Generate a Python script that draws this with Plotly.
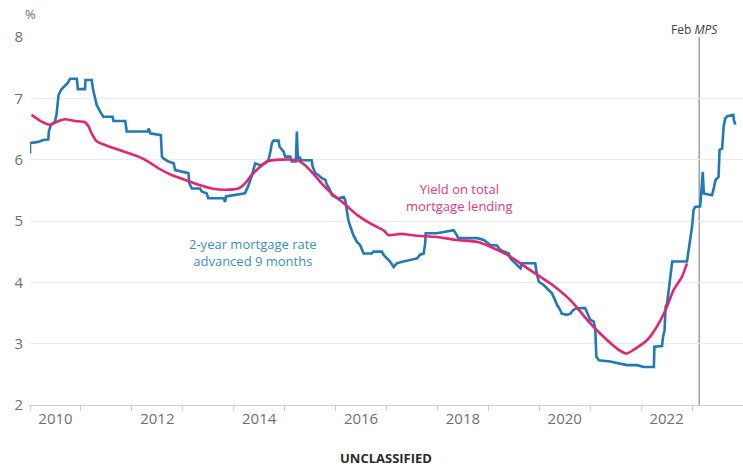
import plotly.graph_objects as go

# 2-year mortgage rate, advanced 9 months (step-like series)
rate_x = [2010.00, 2010.00, 2010.16, 2010.26, 2010.36, 2010.37, 2010.41, 2010.49, 2010.52, 2010.56,
          2010.61, 2010.67, 2010.74, 2010.79, 2010.92, 2010.94, 2011.08, 2011.09, 2011.21, 2011.24,
          2011.28, 2011.31, 2011.38, 2011.44, 2011.62, 2011.64, 2011.87, 2011.90, 2012.32, 2012.33,
          2012.36, 2012.57, 2012.59, 2012.62, 2012.72, 2012.82, 2012.85, 2013.11, 2013.13, 2013.18,
          2013.34, 2013.37, 2013.47, 2013.50, 2013.80, 2013.83, 2013.85, 2014.22, 2014.28, 2014.36,
          2014.42, 2014.52, 2014.62, 2014.68, 2014.72, 2014.75, 2014.78, 2014.88, 2014.90, 2014.98,
          2015.01, 2015.11, 2015.14, 2015.22, 2015.24, 2015.26, 2015.28, 2015.33, 2015.53, 2015.55,
          2015.60, 2015.66, 2015.73, 2015.80, 2015.83, 2015.89, 2015.93, 2016.06, 2016.16, 2016.19,
          2016.22, 2016.25, 2016.29, 2016.35, 2016.42, 2016.48, 2016.52, 2016.55, 2016.71, 2016.74,
          2016.91, 2016.94, 2017.01, 2017.07, 2017.14, 2017.20, 2017.33, 2017.47, 2017.60, 2017.66,
          2017.73, 2017.76, 2017.77, 2017.99, 2018.19, 2018.25, 2018.32, 2018.38, 2018.41, 2018.78,
          2018.91, 2019.04, 2019.17, 2019.23, 2019.40, 2019.43, 2019.50, 2019.63, 2019.66, 2019.92,
          2019.95, 2019.99, 2020.08, 2020.18, 2020.25, 2020.31, 2020.35, 2020.41, 2020.44, 2020.54,
          2020.61, 2020.67, 2020.74, 2020.90, 2020.94, 2021.00, 2021.07, 2021.10, 2021.12, 2021.17,
          2021.39, 2021.59, 2021.72, 2021.92, 2022.05, 2022.25, 2022.26, 2022.41, 2022.43, 2022.46,
          2022.48, 2022.51, 2022.57, 2022.61, 2022.90, 2022.93, 2022.97, 2023.00, 2023.03, 2023.06,
          2023.16, 2023.20, 2023.21, 2023.23, 2023.39, 2023.42, 2023.46, 2023.52, 2023.54, 2023.59,
          2023.62, 2023.65, 2023.69, 2023.81, 2023.82, 2023.85]
rate_y = [6.10, 6.27, 6.29, 6.32, 6.33, 6.46, 6.57, 6.62, 6.73, 7.05,
          7.14, 7.19, 7.25, 7.32, 7.32, 7.15, 7.15, 7.30, 7.30, 7.14,
          7.00, 6.89, 6.78, 6.70, 6.70, 6.63, 6.63, 6.46, 6.46, 6.51,
          6.43, 6.40, 6.05, 6.02, 5.97, 5.94, 5.83, 5.78, 5.61, 5.53,
          5.53, 5.48, 5.45, 5.37, 5.37, 5.31, 5.40, 5.45, 5.56, 5.75,
          5.94, 5.91, 5.94, 5.99, 6.13, 6.27, 6.31, 6.31, 6.21, 6.13,
          6.05, 6.05, 5.97, 5.97, 6.46, 5.99, 6.05, 5.99, 5.99, 5.89,
          5.78, 5.75, 5.70, 5.67, 5.59, 5.51, 5.42, 5.37, 5.39, 5.34,
          5.18, 5.02, 4.91, 4.77, 4.66, 4.61, 4.53, 4.47, 4.47, 4.50,
          4.50, 4.45, 4.39, 4.34, 4.25, 4.31, 4.34, 4.36, 4.39, 4.45,
          4.47, 4.64, 4.80, 4.80, 4.83, 4.85, 4.85, 4.77, 4.72, 4.72,
          4.69, 4.61, 4.60, 4.53, 4.47, 4.39, 4.33, 4.23, 4.31, 4.31,
          4.15, 4.01, 3.96, 3.88, 3.82, 3.71, 3.63, 3.55, 3.49, 3.47,
          3.49, 3.55, 3.58, 3.58, 3.49, 3.39, 3.36, 3.22, 2.79, 2.73,
          2.71, 2.68, 2.65, 2.65, 2.62, 2.62, 2.95, 2.96, 3.11, 3.22,
          3.60, 3.66, 4.04, 4.34, 4.34, 4.53, 4.69, 4.91, 5.18, 5.23,
          5.24, 5.72, 5.80, 5.45, 5.42, 5.51, 5.67, 5.72, 6.16, 6.18,
          6.54, 6.67, 6.71, 6.73, 6.65, 6.57]

# Yield on total mortgage lending (smooth series)
yield_x = [2010.03, 2010.23, 2010.39, 2010.56, 2010.69, 2010.88, 2011.08, 2011.15, 2011.21, 2011.31,
           2011.47, 2011.74, 2012.13, 2012.32, 2012.52, 2012.78, 2013.05, 2013.31, 2013.57, 2013.83,
           2014.09, 2014.22, 2014.36, 2014.49, 2014.65, 2014.91, 2015.24, 2015.40, 2015.53, 2015.73,
           2015.96, 2016.16, 2016.42, 2016.68, 2016.94, 2017.04, 2017.27, 2017.60, 2017.99, 2018.38,
           2018.78, 2019.04, 2019.43, 2019.82, 2020.22, 2020.61, 2021.00, 2021.33, 2021.56, 2021.72,
           2021.85, 2022.12, 2022.31, 2022.48, 2022.64, 2022.80, 2022.90]
yield_y = [6.73, 6.62, 6.57, 6.63, 6.66, 6.63, 6.61, 6.54, 6.43, 6.30,
           6.24, 6.16, 6.05, 5.97, 5.86, 5.75, 5.67, 5.59, 5.53, 5.51,
           5.53, 5.61, 5.76, 5.86, 5.97, 6.00, 5.99, 5.91, 5.80, 5.61,
           5.42, 5.29, 5.10, 4.96, 4.85, 4.77, 4.79, 4.76, 4.74, 4.69,
           4.66, 4.58, 4.42, 4.20, 3.98, 3.71, 3.33, 3.06, 2.90, 2.84,
           2.90, 3.06, 3.28, 3.55, 3.88, 4.09, 4.31]

year_labels = ["2010", "2012", "2014", "2016", "2018", "2020", "2022"]
year_label_pos = [2010.5, 2012.5, 2014.5, 2016.5, 2018.5, 2020.5, 2022.5]
year_starts = list(range(2010, 2025))
y_ticks = [2, 3, 4, 5, 6, 7, 8]
mps_date = 2023.14

BLUE = "#1f7ab6"
PINK = "#e2266f"
FONT = "Open Sans"

fig = go.Figure()
fig.add_trace(go.Scatter(x=rate_x, y=rate_y, mode="lines",
                         line=dict(color=BLUE, width=2.6), hoverinfo="skip"))
fig.add_trace(go.Scatter(x=yield_x, y=yield_y, mode="lines", line_shape="spline",
                         line=dict(color=PINK, width=2.6, smoothing=0.6), hoverinfo="skip"))

fig.add_shape(type="line", x0=mps_date, x1=mps_date, y0=2, y1=8, xref="x", yref="y",
              line=dict(color="#a0a0a0", width=1.5), layer="below")

fig.update_layout(
    width=743, height=466,
    margin=dict(l=30, r=0, t=37, b=61),
    paper_bgcolor="white", plot_bgcolor="white",
    showlegend=False,
    font=dict(family=FONT, color="#707070"),
    xaxis=dict(range=[2010, 2024], tickmode="array", tickvals=year_label_pos, ticktext=year_labels,
               ticks="", showgrid=False, zeroline=False, showline=True, linecolor="#cfcfcf",
               linewidth=1, tickfont=dict(size=15, color="#707070"),
               minor=dict(tickmode="array", tickvals=year_starts, ticks="outside", ticklen=5,
                          tickcolor="#cfcfcf", showgrid=False)),
    yaxis=dict(range=[2, 8], tickmode="array", tickvals=y_ticks, ticks="", showgrid=True,
               gridcolor="#ebebeb", gridwidth=1, zeroline=False, showline=False,
               tickfont=dict(size=15, color="#707070"), ticklabelstandoff=6),
)

fig.add_annotation(text="%", xref="paper", yref="paper", x=0.0, y=1.0, yshift=23,
                   xanchor="center", yanchor="middle", showarrow=False,
                   font=dict(size=13, color="#707070", family=FONT))
fig.add_annotation(text="Feb <i>MPS</i>", x=2023.04, xref="x", yref="paper", y=1.0, yshift=8,
                   xanchor="center", yanchor="middle", showarrow=False,
                   font=dict(size=12, color="#404040", family=FONT))
fig.add_annotation(text="Yield on total<br>mortgage lending", x=2018.44, y=5.38, xref="x", yref="y",
                   showarrow=False, align="center",
                   font=dict(size=13, color="#e0397f", family=FONT))
fig.add_annotation(text="2-year mortgage rate<br>advanced 9 months", x=2014.38, y=4.48, xref="x", yref="y",
                   showarrow=False, align="center",
                   font=dict(size=13, color="#3a8fc4", family=FONT))
fig.add_annotation(text="<b>UNCLASSIFIED</b>", xref="paper", yref="paper", x=0.499, y=0,
                   yshift=-53, xanchor="center", yanchor="middle", showarrow=False,
                   font=dict(size=13, color="#2a2a2a", family=FONT))

fig.write_html("out.html", config={"displayModeBar": False},
               post_script="document.body.style.margin='0';document.body.style.padding='0';"
                           "document.body.style.overflow='hidden';")
